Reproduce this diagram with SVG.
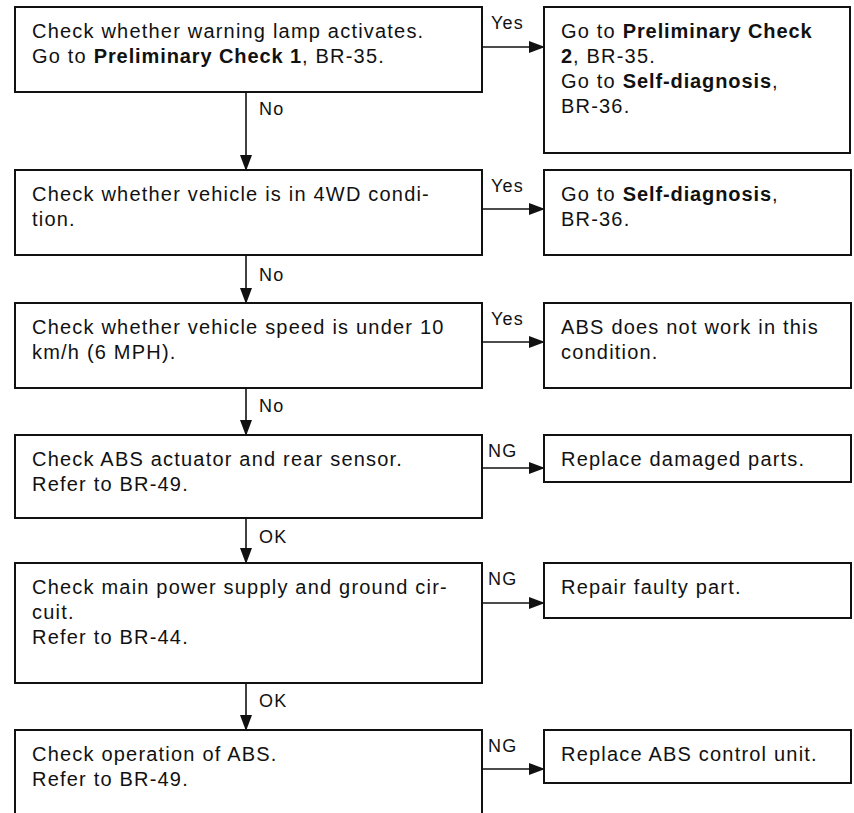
<svg xmlns="http://www.w3.org/2000/svg" width="854" height="813" viewBox="0 0 854 813">
<style>
.box{fill:#fff;stroke:#111;stroke-width:2}
.t{font-family:"Liberation Sans",Arial,sans-serif;font-size:20px;letter-spacing:1.2px;fill:#111}
.b{font-weight:bold;letter-spacing:0.9px}
.lbl{font-family:"Liberation Sans",Arial,sans-serif;font-size:18px;letter-spacing:1.2px;fill:#111}
.ln{stroke:#111;stroke-width:1.6;fill:none}
</style>
<defs>
<marker id="ah" markerWidth="16" markerHeight="12" refX="15" refY="6" orient="auto" markerUnits="userSpaceOnUse">
<path d="M0,0 L16,6 L0,12 Z" fill="#111"/>
</marker>
</defs>
<rect width="854" height="813" fill="#fff"/>

<g id="connectors">
<line class="ln" x1="482" y1="47" x2="544" y2="47" marker-end="url(#ah)"/>
<line class="ln" x1="482" y1="209" x2="544" y2="209" marker-end="url(#ah)"/>
<line class="ln" x1="482" y1="342" x2="544" y2="342" marker-end="url(#ah)"/>
<line class="ln" x1="482" y1="468" x2="544" y2="468" marker-end="url(#ah)"/>
<line class="ln" x1="482" y1="603" x2="544" y2="603" marker-end="url(#ah)"/>
<line class="ln" x1="482" y1="769" x2="544" y2="769" marker-end="url(#ah)"/>
<line class="ln" x1="246" y1="92" x2="246" y2="170" marker-end="url(#ah)"/>
<line class="ln" x1="246" y1="255" x2="246" y2="303" marker-end="url(#ah)"/>
<line class="ln" x1="246" y1="388" x2="246" y2="435" marker-end="url(#ah)"/>
<line class="ln" x1="246" y1="518" x2="246" y2="563" marker-end="url(#ah)"/>
<line class="ln" x1="246" y1="683" x2="246" y2="730" marker-end="url(#ah)"/>
<text class="lbl" x="491" y="29">Yes</text>
<text class="lbl" x="491" y="192">Yes</text>
<text class="lbl" x="491" y="325">Yes</text>
<text class="lbl" x="488" y="457">NG</text>
<text class="lbl" x="488" y="585">NG</text>
<text class="lbl" x="488" y="752">NG</text>
<text class="lbl" x="259" y="115">No</text>
<text class="lbl" x="259" y="281">No</text>
<text class="lbl" x="259" y="412">No</text>
<text class="lbl" x="259" y="543">OK</text>
<text class="lbl" x="259" y="707">OK</text>
</g>

<g id="n1">
<rect class="box" x="15" y="7" width="467" height="85"/>
<text class="t" x="32" y="38">Check whether warning lamp activates.</text>
<text class="t" x="32" y="63">Go to <tspan class="b">Preliminary Check 1</tspan>, BR-35.</text>
</g>
<g id="n1r">
<rect class="box" x="544" y="7" width="306" height="146"/>
<text class="t" x="561" y="38">Go to <tspan class="b">Preliminary Check</tspan></text>
<text class="t" x="561" y="63"><tspan class="b">2</tspan>, BR-35.</text>
<text class="t" x="561" y="88">Go to <tspan class="b">Self-diagnosis</tspan>,</text>
<text class="t" x="561" y="113">BR-36.</text>
</g>

<g id="n2">
<rect class="box" x="15" y="170" width="467" height="85"/>
<text class="t" x="32" y="201">Check whether vehicle is in 4WD condi-</text>
<text class="t" x="32" y="226">tion.</text>
</g>
<g id="n2r">
<rect class="box" x="544" y="170" width="307" height="85"/>
<text class="t" x="561" y="201">Go to <tspan class="b">Self-diagnosis</tspan>,</text>
<text class="t" x="561" y="226">BR-36.</text>
</g>

<g id="n3">
<rect class="box" x="15" y="303" width="467" height="85"/>
<text class="t" x="32" y="334">Check whether vehicle speed is under 10</text>
<text class="t" x="32" y="359">km/h (6 MPH).</text>
</g>
<g id="n3r">
<rect class="box" x="544" y="303" width="307" height="85"/>
<text class="t" x="561" y="334">ABS does not work in this</text>
<text class="t" x="561" y="359">condition.</text>
</g>

<g id="n4">
<rect class="box" x="15" y="435" width="467" height="83"/>
<text class="t" x="32" y="466">Check ABS actuator and rear sensor.</text>
<text class="t" x="32" y="491">Refer to BR-49.</text>
</g>
<g id="n4r">
<rect class="box" x="544" y="435" width="307" height="47"/>
<text class="t" x="561" y="466">Replace damaged parts.</text>
</g>

<g id="n5">
<rect class="box" x="15" y="563" width="467" height="120"/>
<text class="t" x="32" y="594">Check main power supply and ground cir-</text>
<text class="t" x="32" y="619">cuit.</text>
<text class="t" x="32" y="644">Refer to BR-44.</text>
</g>
<g id="n5r">
<rect class="box" x="544" y="563" width="307" height="55"/>
<text class="t" x="561" y="594">Repair faulty part.</text>
</g>

<g id="n6">
<path class="box" d="M15,814 V730 H482 V814"/>
<text class="t" x="32" y="761">Check operation of ABS.</text>
<text class="t" x="32" y="786">Refer to BR-49.</text>
</g>
<g id="n6r">
<rect class="box" x="544" y="730" width="307" height="53"/>
<text class="t" x="561" y="761">Replace ABS control unit.</text>
</g>
</svg>
